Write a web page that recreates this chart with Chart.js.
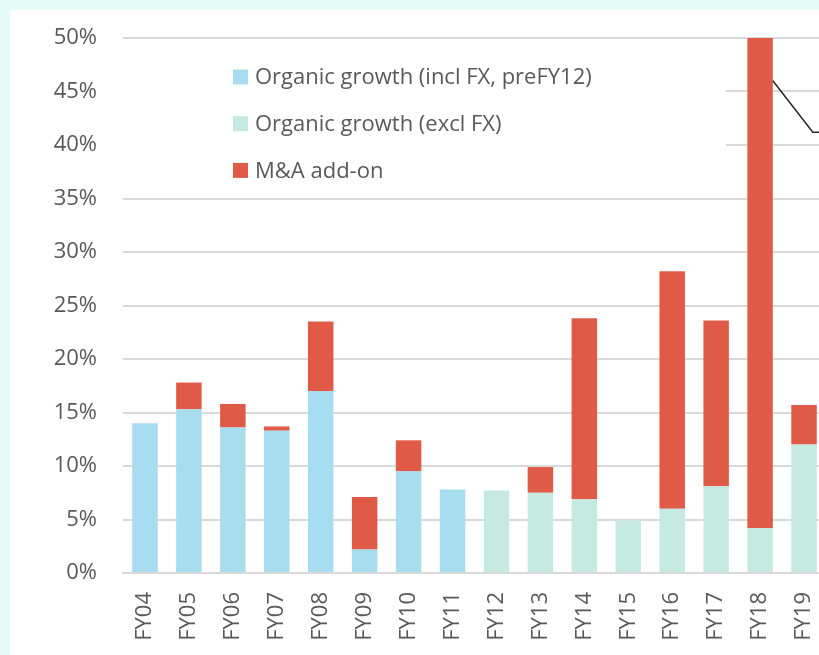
<!DOCTYPE html>
<html>
<head>
<meta charset="utf-8">
<script src="https://cdn.jsdelivr.net/npm/chart.js@4.4.1/dist/chart.umd.min.js"></script>
<style>
  html, body { margin: 0; padding: 0; background: #e6fcf8; overflow: hidden; }
  #panel { position: absolute; left: 10px; top: 10px; width: 809px; height: 645px; background: #fff; overflow: hidden; }
  #wrap { position: absolute; left: 0; top: 0; width: 816px; height: 645px; }
</style>
</head>
<body>
<div id="panel"><div id="wrap"><canvas id="chart"></canvas></div></div>
<script>
// Dados do gráfico
const years = ['FY04', 'FY05', 'FY06', 'FY07', 'FY08', 'FY09', 'FY10', 'FY11',
               'FY12', 'FY13', 'FY14', 'FY15', 'FY16', 'FY17', 'FY18', 'FY19'];
const organicInclFx = [14.0, 15.3, 13.6, 13.3, 17.0, 2.2, 9.5, 7.8,
                       null, null, null, null, null, null, null, null];
const organicExclFx = [null, null, null, null, null, null, null, null,
                       7.7, 7.5, 6.9, 4.9, 6.0, 8.1, 4.2, 12.0];
const maAddOn = [0, 2.5, 2.2, 0.4, 6.5, 4.9, 2.9, 0,
                 0, 2.4, 16.9, 0, 22.2, 15.5, 45.8, 3.7];
const yTicks = [0, 5, 10, 15, 20, 25, 30, 35, 40, 45, 50];
// callout que sai da barra FY18 (valores em %)
const calloutValues = [46, 41.2];

const fontFamily = '"Open Sans", "Noto Sans", sans-serif';
const textColor = '#595959';
const gridColor = '#d9d9d9';

// Legenda dentro da área do gráfico, com fundo branco por cima das linhas de grade
const insideLegend = {
    id: 'insideLegend',
    beforeDatasetsDraw(chart) {
        const ctx = chart.ctx;
        const area = chart.chartArea;
        ctx.save();
        ctx.fillStyle = '#ffffff';
        ctx.fillRect(area.left, 36, 603, 146);
        ctx.font = '22px ' + fontFamily;
        ctx.textBaseline = 'middle';
        chart.data.datasets.forEach((ds, i) => {
            const y = 67 + i * 46.7;
            ctx.fillStyle = ds.backgroundColor;
            ctx.fillRect(223, y - 7.5, 15, 15);
            ctx.fillStyle = textColor;
            ctx.fillText(ds.label, 245, y + 1);
        });
        ctx.restore();
    },
    afterDatasetsDraw(chart) {
        const x = chart.scales.x;
        const y = chart.scales.y;
        const bar = chart.getDatasetMeta(2).data[14];
        const step = x.getPixelForValue(15) - x.getPixelForValue(14);
        const ctx = chart.ctx;
        ctx.save();
        ctx.strokeStyle = '#262626';
        ctx.lineWidth = 1.5;
        ctx.beginPath();
        ctx.moveTo(bar.x + bar.width / 2, y.getPixelForValue(calloutValues[0]));
        ctx.lineTo(x.getPixelForValue(15) + step * 0.2, y.getPixelForValue(calloutValues[1]));
        ctx.lineTo(chart.chartArea.right, y.getPixelForValue(calloutValues[1]));
        ctx.stroke();
        ctx.restore();
    }
};

const ctx = document.getElementById('chart').getContext('2d');

new Chart(ctx, {
    type: 'bar',
    data: {
        labels: years,
        datasets: [{
            label: 'Organic growth (incl FX, preFY12)',
            data: organicInclFx,
            backgroundColor: '#a8dcef'
        }, {
            label: 'Organic growth (excl FX)',
            data: organicExclFx,
            backgroundColor: '#c6e9e1'
        }, {
            label: 'M&A add-on',
            data: maAddOn,
            backgroundColor: '#e05a48'
        }]
    },
    options: {
        responsive: true,
        maintainAspectRatio: false,
        animation: false,
        categoryPercentage: 1,
        barPercentage: 0.58,
        layout: { padding: { top: 28, right: 0, bottom: 0, left: 0 } },
        plugins: {
            legend: { display: false },
            tooltip: { enabled: false }
        },
        scales: {
            x: {
                stacked: true,
                grid: { display: false, drawTicks: false },
                border: { color: gridColor, width: 2 },
                ticks: {
                    color: textColor,
                    font: { family: fontFamily, size: 22 },
                    minRotation: 90,
                    maxRotation: 90,
                    padding: 19,
                    autoSkip: false
                },
                afterFit(scale) {
                    scale.height = 82;
                    scale.paddingLeft = 0;
                    scale.paddingRight = 0;
                }
            },
            y: {
                stacked: true,
                min: 0,
                max: 50,
                afterBuildTicks(scale) { scale.ticks = yTicks.map(v => ({ value: v })); },
                grid: { color: gridColor, lineWidth: 2, drawTicks: false },
                border: { display: false },
                ticks: {
                    color: textColor,
                    font: { family: fontFamily, size: 22 },
                    padding: 26,
                    callback: v => v + '%'
                },
                afterFit(scale) {
                    scale.width = 113;
                    scale.paddingTop = 0;
                    scale.paddingBottom = 0;
                }
            }
        }
    },
    plugins: [insideLegend]
});
</script>
</body>
</html>
